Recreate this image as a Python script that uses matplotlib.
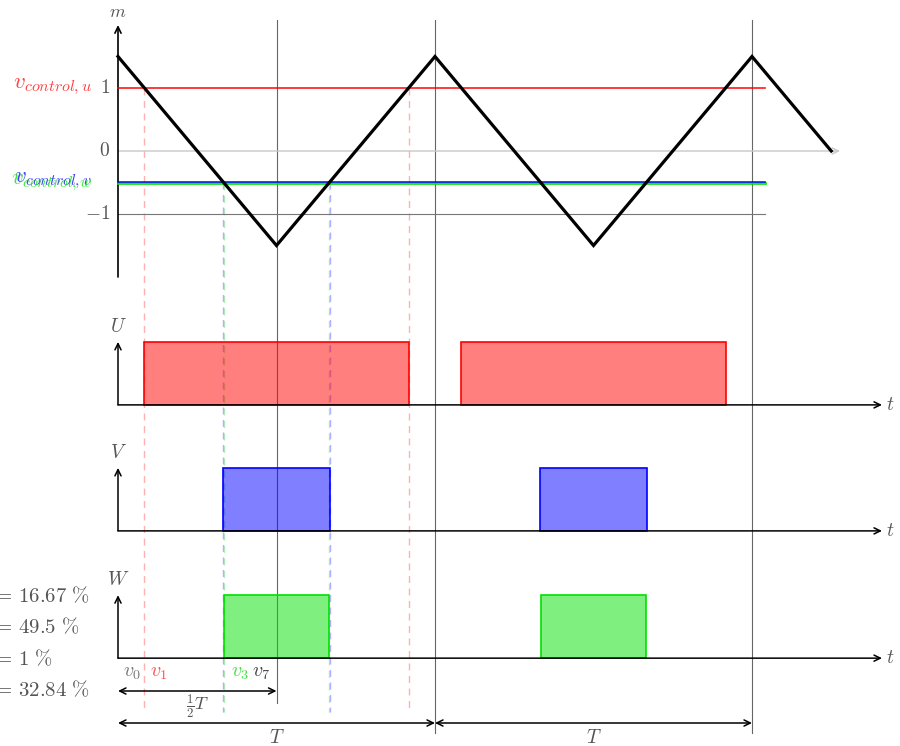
import numpy as np
import matplotlib.pyplot as plt

plt.rcParams['mathtext.fontset'] = 'cm'
plt.rcParams['font.family'] = ['DejaVu Serif']

# carrier (triangle) vertices, t in periods
carrier_t = [0.0, 0.5, 1.0, 1.5, 2.0, 2.25]
carrier_m = [1.5, -1.5, 1.5, -1.5, 1.5, 0.0]

# time shares of the half period
state_names = ['v_0', 'v_1', 'v_3', 'v_7']
state_pct = [16.67, 49.5, 1, 32.84]
phases = ['U', 'V', 'W']
phase_colors = ['#ff0000', '#0000ff', '#00e000']

# control levels follow from the shares: m = 1.5 - 3*fraction
cum = np.cumsum(state_pct[:3]) / 100.0
v_ctrl = 1.5 - 3.0 * cum          # u, v, w
t_cross = 0.5 * cum               # crossing times in the first half period

gray = '#555555'
PX_T, PX_M = 317.0, 63.0          # pixels per period / per unit of m
def dx(p): return p / PX_T
def dy(p): return p / PX_M

fig = plt.figure(figsize=(9.0, 7.46), dpi=100)
ax = fig.add_axes([0, 0, 1, 1])
ax.set_xlim(-dx(118), dx(782))
ax.set_ylim(-dy(595), dy(151))
ax.axis('off')

def arrow(x0, y0, x1, y1, style='->', color='k', lw=1.1):
    ax.annotate('', xy=(x1, y1), xytext=(x0, y0),
                arrowprops=dict(arrowstyle=style + ',head_length=0.45,head_width=0.22',
                                color=color, lw=lw, shrinkA=0, shrinkB=0))

line_end = dx(647)

# ---- carrier plot ----
arrow(0, 0, dx(722), 0, color='#c8c8c8', lw=1.0)
ax.plot([0, line_end], [-1, -1], color='#777777', lw=0.8)
arrow(0, -2.0, 0, 2.0, lw=1.2)
ax.text(0, 2.0 + dy(13), '$m$', color=gray, fontsize=13, ha='center', va='center')
for val, lab in zip([1, 0, -1], ['$1$', '$0$', '$-1$']):
    ax.text(-dx(8), val, lab, color=gray, fontsize=14, ha='right', va='center')

ctrl_labels = ['$v_{control,u}$', '$v_{control,v}$', '$v_{control,w}$']
line_z = [3, 4, 3]
line_w = [1.2, 1.2, 2.0]
for c, col, lab, z, w in zip(v_ctrl, phase_colors, ctrl_labels, line_z, line_w):
    ax.plot([0, line_end], [c, c], color=col, lw=w, alpha=0.9, zorder=z)
    ax.text(-dx(26), c + 0.03, lab, color=col, fontsize=16.5, ha='right', va='center', alpha=0.75)

ax.plot(carrier_t, carrier_m, color='k', lw=2.3, solid_joinstyle='miter', zorder=5)

# ---- switching signals ----
bases = [-4.03, -6.03, -8.05]
for ph, col, base, tc in zip(phases, phase_colors, bases, t_cross):
    arrow(0, base, dx(764), base, lw=1.1)
    arrow(0, base, 0, base + 1.0, lw=1.1)
    ax.text(0, base + 1.24, '$%s$' % ph, color=gray, fontsize=14, ha='center', va='center')
    ax.text(dx(772), base, '$t$', color=gray, fontsize=14, ha='center', va='center')
    for k in range(2):
        ax.bar(k + tc, 1.0, width=1.0 - 2 * tc, bottom=base, align='edge',
               color=col, alpha=0.5, edgecolor='none', zorder=1)
        ax.bar(k + tc, 1.0, width=1.0 - 2 * tc, bottom=base, align='edge',
               facecolor='none', edgecolor=col, lw=1.2, zorder=2)

# dashed markers at the crossings of the first period (w under v)
y_bot = -dy(561)
dash_cols = ['#ffb0b0', '#b0b0ff', '#b0f0b0']
for i in (0, 2, 1):
    c, tc = v_ctrl[i], t_cross[i]
    for x in (tc, 1.0 - tc):
        ax.plot([x, x], [c, y_bot], color=dash_cols[i], lw=1.0, dashes=(5, 4), zorder=0)

# period lines
top = dy(131)
ax.plot([0.5, 0.5], [top, -dy(552)], color='#666666', lw=0.8, zorder=0)
for x in (1.0, 2.0):
    ax.plot([x, x], [top, -dy(582)], color='#666666', lw=0.8, zorder=0)

# ---- state labels and durations ----
y_st = bases[2] - 0.22
ax.text(t_cross[0] - dx(3), y_st, '$%s$' % state_names[0], color='#777777', fontsize=14.5, ha='right', va='center')
ax.text(t_cross[0] + dx(6), y_st, '$%s$' % state_names[1], color='#ff5050', fontsize=14.5, ha='left', va='center')
ax.text(t_cross[2] + dx(7), y_st, '$%s$' % state_names[2], color='#40e040', fontsize=14.5, ha='left', va='center')
ax.text(t_cross[2] + dx(28), y_st, '$%s$' % state_names[3], color='#444444', fontsize=14.5, ha='left', va='center')

y_list = [-dy(445), -dy(476), -dy(508), -dy(539)]
for name, pct, y in zip(state_names, state_pct, y_list):
    ax.text(-dx(145), y, '$%s =\\, %s\\ \\%%$' % (name, '%g' % pct), color=gray,
            fontsize=15, ha='left', va='center')

y_half = -dy(540)
arrow(0, y_half, 0.5, y_half, style='<->', lw=1.1)
ax.text(0.25, y_half - dy(15), r'$\frac{1}{2}T$', color=gray, fontsize=13, ha='center', va='center')
y_T = -dy(572)
for k in range(2):
    arrow(k, y_T, k + 1, y_T, style='<->', lw=1.1)
    ax.text(k + 0.5, y_T - dy(15), '$T$', color=gray, fontsize=14, ha='center', va='center')

fig.savefig('out.png', dpi=100, facecolor='w')
